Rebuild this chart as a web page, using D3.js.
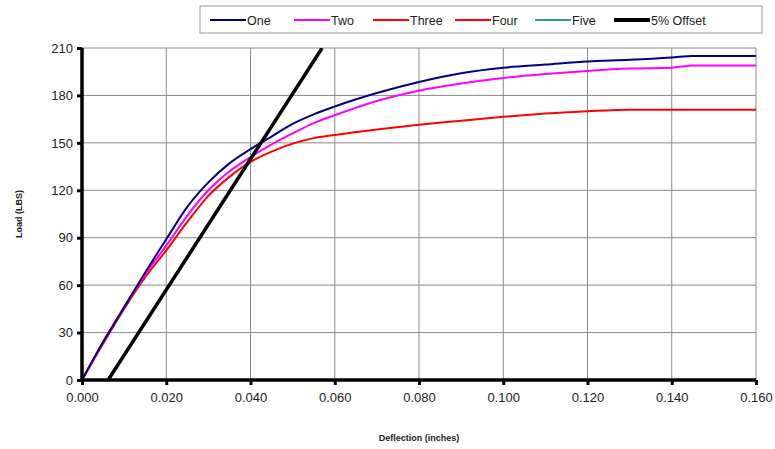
<!DOCTYPE html>
<html><head><meta charset="utf-8">
<script src="https://cdn.jsdelivr.net/npm/d3@7"></script>
<style>
body{margin:0;background:#fff;}
text{font-family:"Liberation Sans",Arial,sans-serif;}
</style></head>
<body><svg id="c" width="775" height="449"></svg>
<script>
const xTicks = [0,0.02,0.04,0.06,0.08,0.10,0.12,0.14,0.16];
const yTicks = [0,30,60,90,120,150,180,210];
const seriesNames = ["One","Two","Three","Four","Five","5% Offset"];
const seriesColors = ["#000080","#ff00ff","#ff0000","#ff0000","#339980","#000000"];

const defl = [0,0.005,0.010,0.015,0.020,0.025,0.030,0.035,0.040,0.045,0.050,0.055,0.060,0.070,0.080,0.090,0.100,0.110,0.120,0.130,0.140,0.145,0.160];
const loadOne   = [0,24,46,68,89,109.5,125,137,146,154,162,168,173,181.5,188.5,194,197.5,199.5,201.5,202.5,204,205,205];
const loadTwo   = [0,24,46,67,85,104,120,132,141,149,156,162.5,167.5,176.5,183,187.5,191,193.5,195.5,197,197.5,199,199];
const loadThree = [0,23,45,65,82,100,116.5,128.5,138,144.5,149.5,153,155,158.5,161.5,164,166.5,168.5,170,171,171,171,171];
const loadFour  = [];
const loadFive  = [];
const offsetDefl = [0.0062,0.0570];
const offsetLoad = [0,210];

const svg = d3.select("#c");
const L=82,R=756,T=48,B=380;
const x = d3.scaleLinear().domain([0,0.16]).range([L,R]);
const y = d3.scaleLinear().domain([0,210]).range([B,T]);

// grid
svg.append("g").selectAll("line").data(xTicks).join("line")
  .attr("x1",d=>x(d)).attr("x2",d=>x(d)).attr("y1",T).attr("y2",B)
  .attr("stroke","#8a8a8a").attr("stroke-width",1);
svg.append("g").selectAll("line").data(yTicks).join("line")
  .attr("x1",L).attr("x2",R).attr("y1",d=>y(d)).attr("y2",d=>y(d))
  .attr("stroke","#8a8a8a").attr("stroke-width",1);

svg.append("defs").append("clipPath").attr("id","clip")
  .append("rect").attr("x",L).attr("y",T).attr("width",R-L).attr("height",B-T);

const line = d3.line().x(d=>x(d[0])).y(d=>y(d[1])).curve(d3.curveMonotoneX);
const sets = [
  [defl,loadThree,2],[defl,loadTwo,1],[defl,loadOne,0],[defl,loadFour,3],[defl,loadFive,4]
];
const g = svg.append("g").attr("clip-path","url(#clip)");
sets.forEach(([xs,ys,i])=>{
  if(!ys.length) return;
  g.append("path").datum(xs.map((v,k)=>[v,ys[k]]))
   .attr("d",line).attr("fill","none").attr("stroke",seriesColors[i]).attr("stroke-width",2);
});
g.append("path").datum(offsetDefl.map((v,k)=>[v,offsetLoad[k]]))
  .attr("d",d3.line().x(d=>x(d[0])).y(d=>y(d[1])))
  .attr("fill","none").attr("stroke","#000").attr("stroke-width",3.5);

// axes
const xa = svg.append("g").attr("transform",`translate(0,${B})`)
  .call(d3.axisBottom(x).tickValues(xTicks).tickFormat(d3.format(".3f")).tickSize(5).tickPadding(8));
const ya = svg.append("g").attr("transform",`translate(${L},0)`)
  .call(d3.axisLeft(y).tickValues(yTicks).tickSize(5).tickPadding(4));
[xa,ya].forEach(a=>{
  a.select(".domain").attr("stroke","#000").attr("stroke-width",3.5);
  a.selectAll(".tick line").attr("stroke","#000").attr("stroke-width",3);
  a.selectAll(".tick text").attr("font-size",13).attr("fill","#222")
   .attr("font-family","Liberation Sans, Arial, sans-serif");
});
xa.select(".domain").attr("d",`M${L},0H${R}`);
ya.select(".domain").attr("d",`M0,${B}V${T}`);

svg.append("text").attr("x",419).attr("y",441).attr("text-anchor","middle")
  .attr("font-size",9).attr("font-weight","bold").attr("fill","#222").text("Deflection (inches)");
svg.append("text").attr("transform","translate(22,214) rotate(-90)").attr("text-anchor","middle")
  .attr("font-size",9).attr("font-weight","bold").attr("fill","#222").text("Load (LBS)");

// legend
const lg = svg.append("g");
lg.append("rect").attr("x",200).attr("y",6).attr("width",562).attr("height",27)
  .attr("fill","#fff").attr("stroke","#999").attr("stroke-width",1);
const lx = [210,294,373,455,535,614];
seriesNames.forEach((n,i)=>{
  lg.append("line").attr("x1",lx[i]).attr("x2",lx[i]+36).attr("y1",20).attr("y2",20)
    .attr("stroke",seriesColors[i]).attr("stroke-width",i===5?4:2);
  lg.append("text").attr("x",lx[i]+37).attr("y",24.5).attr("font-size",12.5).attr("fill","#222").text(n);
});
</script></body></html>
